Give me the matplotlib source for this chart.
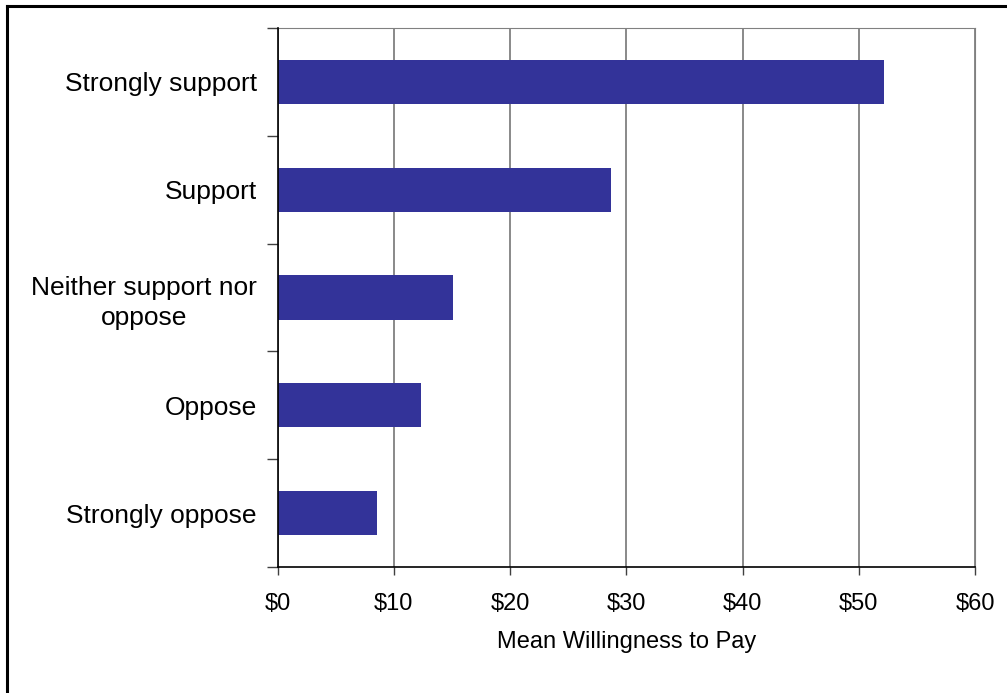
import matplotlib.pyplot as plt
from matplotlib.lines import Line2D
from matplotlib.ticker import FuncFormatter

plt.rcParams['font.family'] = ['Liberation Sans', 'DejaVu Sans']

categories = ['Strongly oppose', 'Oppose', 'Neither support nor\noppose',
              'Support', 'Strongly support']
wtp = [8.55, 12.3, 15.1, 28.7, 52.2]
xticks = [0, 10, 20, 30, 40, 50, 60]

W, H = 1007, 693
fig = plt.figure(figsize=(W / 100, H / 100), dpi=100)
ax = fig.add_axes([277.7 / W, 1 - 567 / H, (975 - 277.7) / W, (567 - 28) / H])

pos = list(range(len(categories)))
ax.barh(pos, wtp, height=0.41, color='#333399', zorder=3)

ax.set_xlim(0, 60)
ax.set_ylim(-0.5, len(categories) - 0.5)
ax.set_xticks(xticks)
ax.xaxis.set_major_formatter(FuncFormatter(lambda v, p: f'${v:.0f}'))
ax.set_yticks(pos)
ax.set_yticklabels(categories, ha='right', multialignment='center',
                   linespacing=1.3)
ax.set_yticks([p - 0.5 for p in pos] + [len(pos) - 0.5], minor=True)

ax.grid(axis='x', color='#808080', linewidth=1.3, zorder=0)
ax.tick_params(axis='x', length=6, width=1, color='#404040', labelsize=17, pad=13)
ax.tick_params(axis='y', which='major', length=0, labelsize=19, pad=15)
ax.tick_params(axis='y', which='minor', length=8, width=1, color='#404040')

for s in ['left', 'bottom']:
    ax.spines[s].set_color('black')
    ax.spines[s].set_linewidth(1.2)
    ax.spines[s].set_zorder(4)
ax.spines['top'].set_color('#808080')
ax.spines['right'].set_color('#808080')

ax.set_xlabel('Mean Willingness to Pay', fontsize=17, labelpad=11)

# outer frame (only left and top visible)
fig.add_artist(Line2D([6.5 / W, 6.5 / W], [0, 1 - 5.5 / H], color='black', linewidth=2.2))
fig.add_artist(Line2D([6.5 / W, 1], [1 - 5.5 / H, 1 - 5.5 / H], color='black', linewidth=2.2))

fig.savefig('out.png', dpi=100)
